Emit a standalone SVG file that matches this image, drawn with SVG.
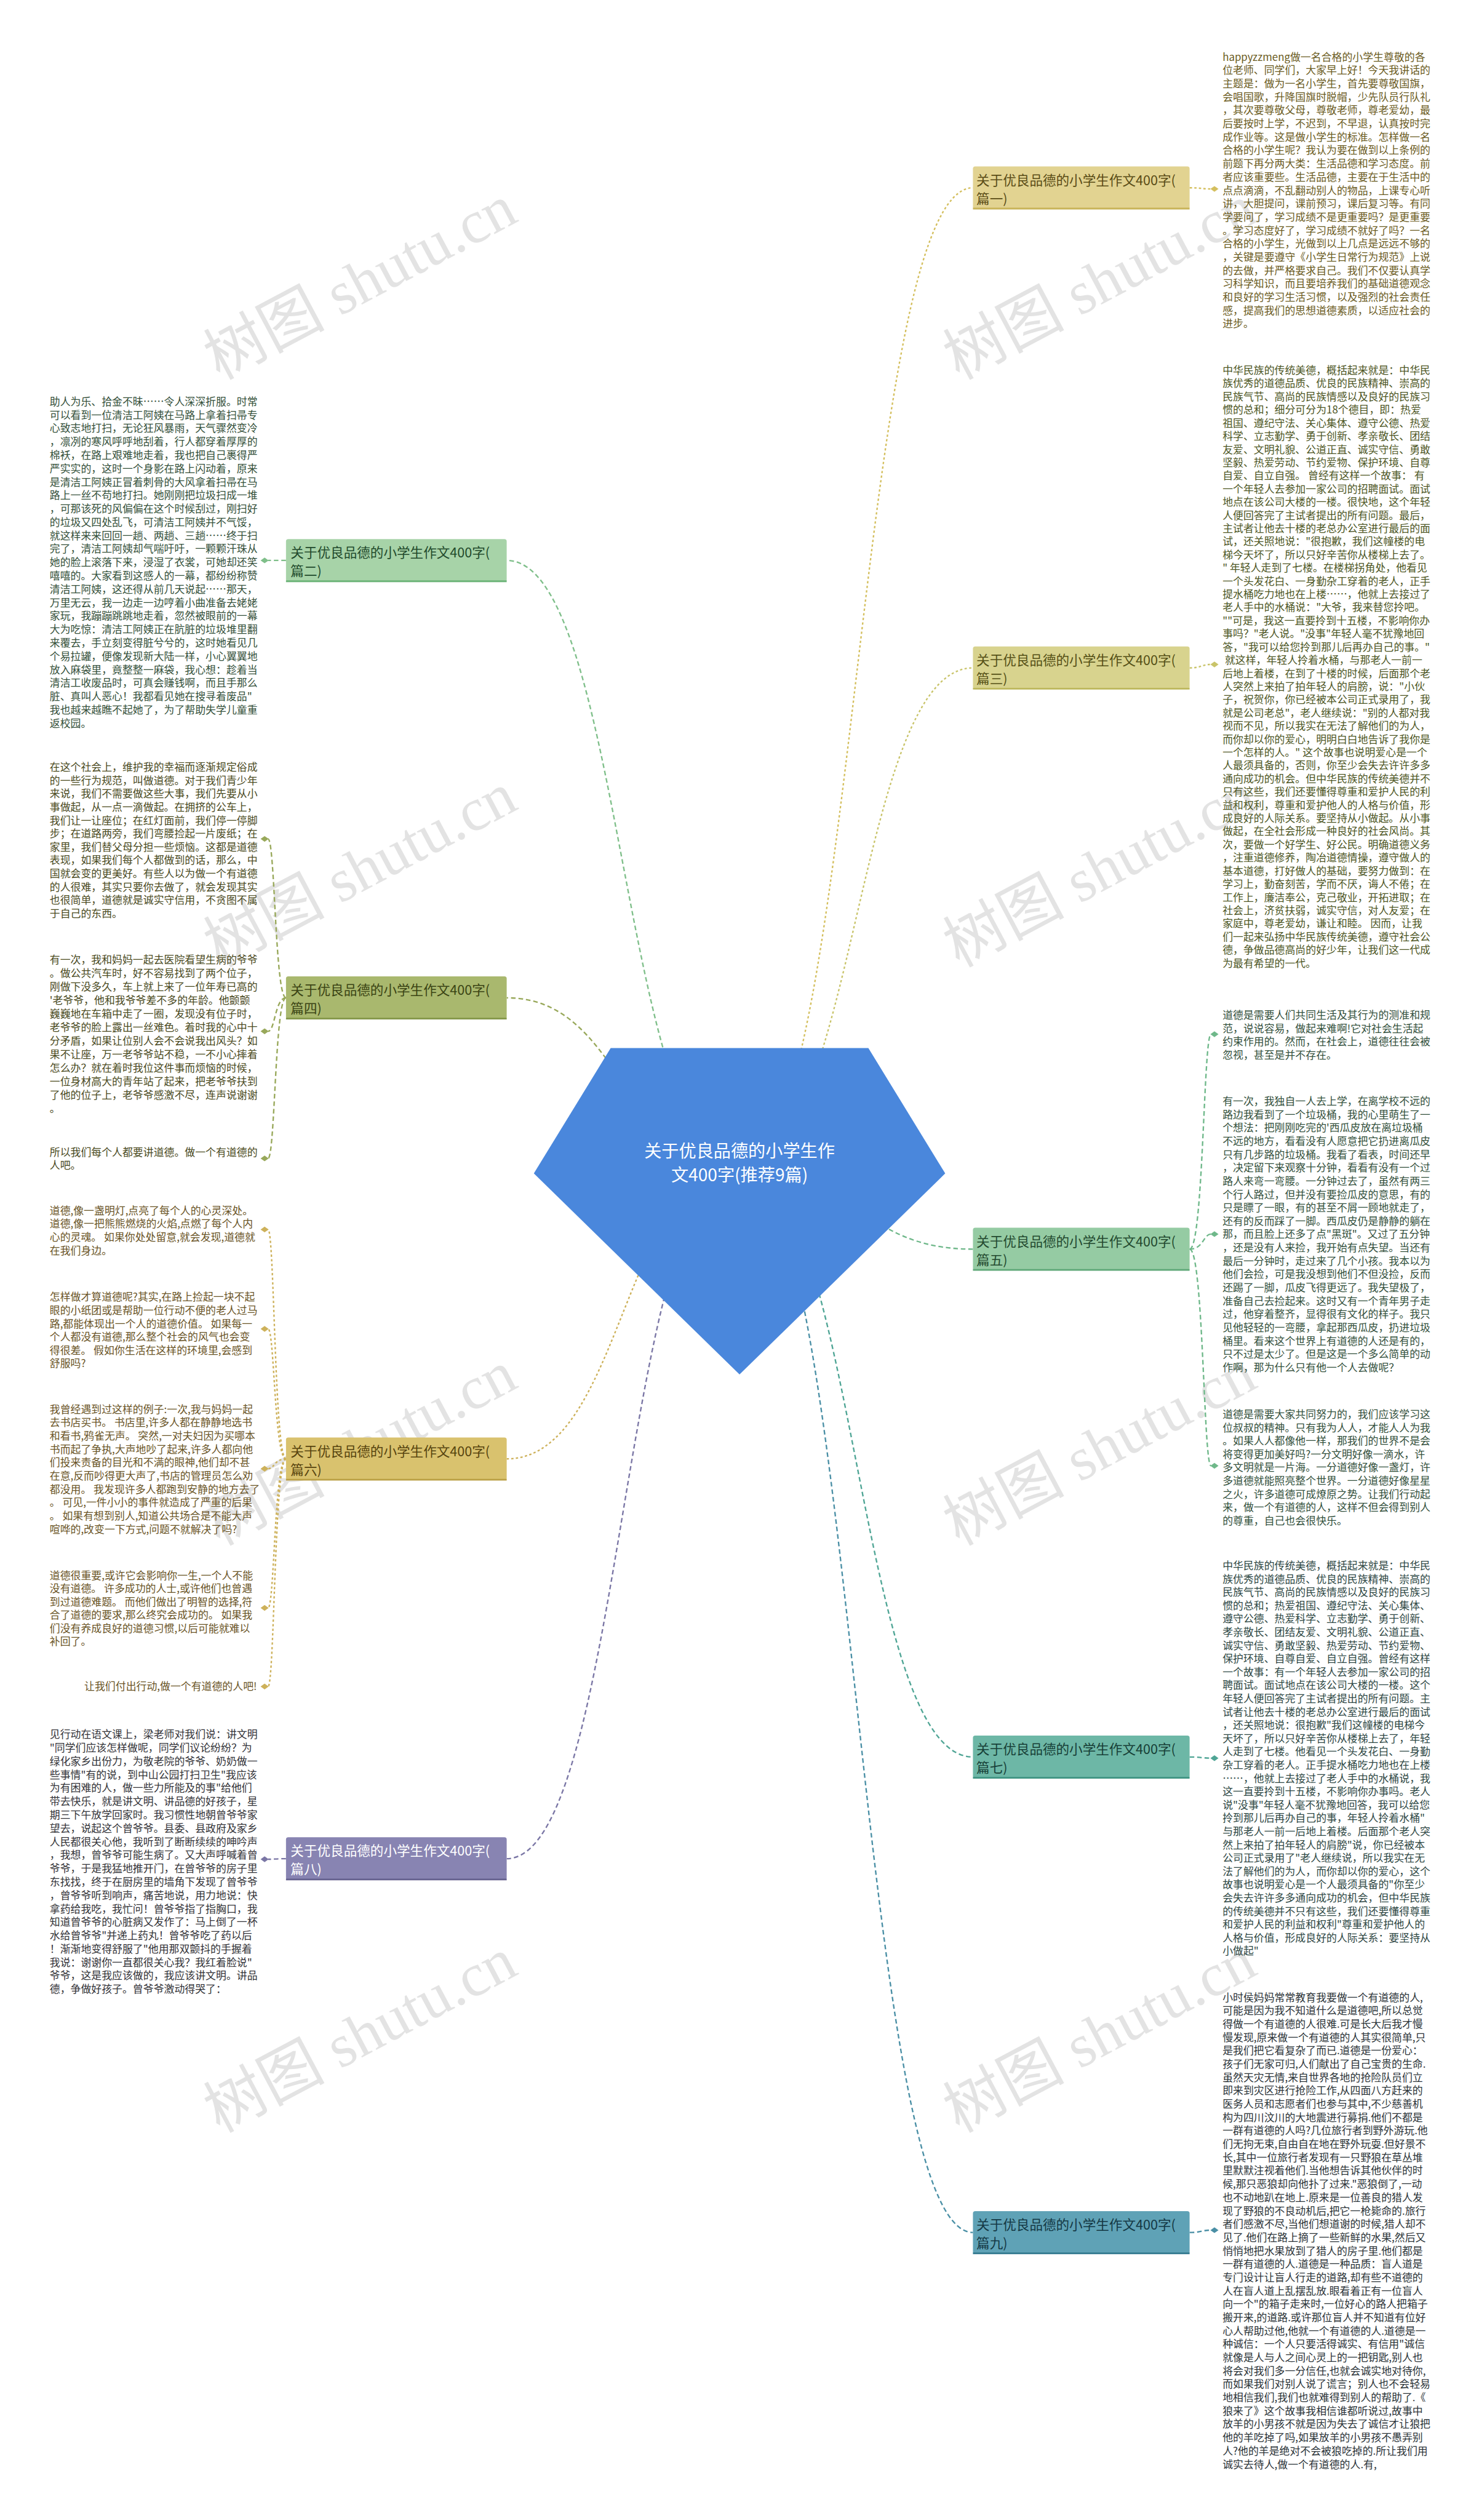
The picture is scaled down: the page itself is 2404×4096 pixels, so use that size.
<svg xmlns="http://www.w3.org/2000/svg" xmlns:xlink="http://www.w3.org/1999/xlink" width="2404" height="4096" viewBox="0 0 2404 4096">
<defs>
<style>
.t{font-family:"Noto Sans CJK SC","Noto Sans",sans-serif;font-size:18px;}
.nt{font-family:"Noto Sans CJK SC","Noto Sans",sans-serif;font-size:23px;}
.rt{font-family:"Noto Sans CJK SC","Noto Sans",sans-serif;font-size:30px;fill:#ffffff;}
.wm{font-family:"Liberation Serif","Noto Sans CJK SC",serif;font-size:105px;fill:#e3e3e3;}
.c{fill:none;stroke-width:2.5;stroke-dasharray:8 5;}
.d{stroke-dasharray:4 4;}
</style>
<path id="dm" d="M-7,0 L0,-5 L7,0 L0,5 Z"/>
</defs>
<rect width="2404" height="4096" fill="#ffffff"/>
<g transform="scale(0.9391)">
<g id="watermarks">
<text class="wm" transform="translate(640,520) rotate(-28)" text-anchor="middle">树图 shutu.cn</text>
<text class="wm" transform="translate(1920,520) rotate(-28)" text-anchor="middle">树图 shutu.cn</text>
<text class="wm" transform="translate(640,1537) rotate(-28)" text-anchor="middle">树图 shutu.cn</text>
<text class="wm" transform="translate(1920,1537) rotate(-28)" text-anchor="middle">树图 shutu.cn</text>
<text class="wm" transform="translate(640,2538) rotate(-28)" text-anchor="middle">树图 shutu.cn</text>
<text class="wm" transform="translate(1920,2538) rotate(-28)" text-anchor="middle">树图 shutu.cn</text>
<text class="wm" transform="translate(640,3554) rotate(-28)" text-anchor="middle">树图 shutu.cn</text>
<text class="wm" transform="translate(1920,3554) rotate(-28)" text-anchor="middle">树图 shutu.cn</text>
</g>
<g id="connectors">
<path class="c d" stroke="#d4bf5e" d="M1280,2020 C1482,2020 1482,325 1684,325"/>
<path class="c d" stroke="#c9c46a" d="M1280,2020 C1482,2020 1482,1156 1684,1156"/>
<path class="c" stroke="#6fb88a" d="M1280,2020 C1482,2020 1482,2162 1684,2162"/>
<path class="c" stroke="#4fa595" d="M1280,2020 C1482,2020 1482,3041 1684,3041"/>
<path class="c" stroke="#4a8fa5" d="M1280,2020 C1482,2020 1482,3864 1684,3864"/>
<path class="c" stroke="#7fbf8a" d="M1280,2020 C1078,2020 1078,970 877,970"/>
<path class="c" stroke="#98a85a" d="M1280,2020 C1078,2020 1078,1727 877,1727"/>
<path class="c d" stroke="#cdb15a" d="M1280,2020 C1078,2020 1078,2525 877,2525"/>
<path class="c" stroke="#7a76a5" d="M1280,2020 C1078,2020 1078,3217 877,3217"/>
<path class="c d" stroke="#d4bf5e" d="M2059,325 C2080,325 2080,327 2096,327"/>
<path class="c d" stroke="#c9c46a" d="M2059,1156 C2080,1156 2080,1150 2096,1150"/>
<path class="c" stroke="#6fb88a" d="M2059,2162 C2083,2162 2083,1790 2096,1790"/>
<path class="c" stroke="#6fb88a" d="M2059,2162 C2083,2162 2083,2136 2096,2136"/>
<path class="c" stroke="#6fb88a" d="M2059,2162 C2083,2162 2083,2537 2096,2537"/>
<path class="c" stroke="#4fa595" d="M2059,3041 C2080,3041 2080,3043 2096,3043"/>
<path class="c" stroke="#4a8fa5" d="M2059,3864 C2080,3864 2080,3860 2096,3860"/>
<path class="c" stroke="#7fbf8a" d="M495,970 C476,970 476,970 464,970"/>
<path class="c" stroke="#98a85a" d="M495,1727 C476,1727 476,1452 464,1452"/>
<path class="c" stroke="#98a85a" d="M495,1727 C476,1727 476,1785 464,1785"/>
<path class="c" stroke="#98a85a" d="M495,1727 C476,1727 476,2005 464,2005"/>
<path class="c d" stroke="#cdb15a" d="M495,2525 C475,2525 475,2128 464,2128"/>
<path class="c d" stroke="#cdb15a" d="M495,2525 C475,2525 475,2300 464,2300"/>
<path class="c d" stroke="#cdb15a" d="M495,2525 C475,2525 475,2542 464,2542"/>
<path class="c d" stroke="#cdb15a" d="M495,2525 C475,2525 475,2783 464,2783"/>
<path class="c d" stroke="#cdb15a" d="M495,2525 C475,2525 475,2919 464,2919"/>
<path class="c" stroke="#7a76a5" d="M495,3217 C476,3217 476,3218 464,3218"/>
<use xlink:href="#dm" x="2102" y="327" fill="#d4bf5e"/>
<use xlink:href="#dm" x="2102" y="1150" fill="#c9c46a"/>
<use xlink:href="#dm" x="2102" y="1790" fill="#6fb88a"/>
<use xlink:href="#dm" x="2102" y="2136" fill="#6fb88a"/>
<use xlink:href="#dm" x="2102" y="2537" fill="#6fb88a"/>
<use xlink:href="#dm" x="2102" y="3043" fill="#4fa595"/>
<use xlink:href="#dm" x="2102" y="3860" fill="#4a8fa5"/>
<use xlink:href="#dm" x="458" y="970" fill="#7fbf8a"/>
<use xlink:href="#dm" x="458" y="1452" fill="#98a85a"/>
<use xlink:href="#dm" x="458" y="1785" fill="#98a85a"/>
<use xlink:href="#dm" x="458" y="2005" fill="#98a85a"/>
<use xlink:href="#dm" x="458" y="2128" fill="#cdb15a"/>
<use xlink:href="#dm" x="458" y="2300" fill="#cdb15a"/>
<use xlink:href="#dm" x="458" y="2542" fill="#cdb15a"/>
<use xlink:href="#dm" x="458" y="2783" fill="#cdb15a"/>
<use xlink:href="#dm" x="458" y="2919" fill="#cdb15a"/>
<use xlink:href="#dm" x="458" y="3218" fill="#7a76a5"/>
</g>
<g id="root">
<polygon points="1057,1814 1503,1814 1636,2031 1280,2379 924,2031" fill="#4a87dc"/>
<text class="rt" x="1280" y="2003" text-anchor="middle">关于优良品德的小学生作</text>
<text class="rt" x="1280" y="2045" text-anchor="middle">文400字(推荐9篇)</text>
</g>
<g id="n1">
<rect x="1684" y="288" width="375" height="74" rx="4" fill="#e2d391"/>
<line x1="1684" y1="361" x2="2059" y2="361" stroke="#c9b45a" stroke-width="3"/>
<text class="nt" fill="#5a4c16" x="1690" y="320">关于优良品德的小学生作文400字(</text>
<text class="nt" fill="#5a4c16" x="1690" y="352">篇一)</text>
</g>
<g id="n3">
<rect x="1684" y="1119" width="375" height="74" rx="4" fill="#d8d38e"/>
<line x1="1684" y1="1192" x2="2059" y2="1192" stroke="#bdb85e" stroke-width="3"/>
<text class="nt" fill="#555016" x="1690" y="1151">关于优良品德的小学生作文400字(</text>
<text class="nt" fill="#555016" x="1690" y="1183">篇三)</text>
</g>
<g id="n5">
<rect x="1684" y="2125" width="375" height="74" rx="4" fill="#95cba3"/>
<line x1="1684" y1="2198" x2="2059" y2="2198" stroke="#5fa878" stroke-width="3"/>
<text class="nt" fill="#23492f" x="1690" y="2157">关于优良品德的小学生作文400字(</text>
<text class="nt" fill="#23492f" x="1690" y="2189">篇五)</text>
</g>
<g id="n7">
<rect x="1684" y="3004" width="375" height="74" rx="4" fill="#6db7a6"/>
<line x1="1684" y1="3077" x2="2059" y2="3077" stroke="#3f9482" stroke-width="3"/>
<text class="nt" fill="#173f37" x="1690" y="3036">关于优良品德的小学生作文400字(</text>
<text class="nt" fill="#173f37" x="1690" y="3068">篇七)</text>
</g>
<g id="n9">
<rect x="1684" y="3827" width="375" height="74" rx="4" fill="#5fa2b6"/>
<line x1="1684" y1="3900" x2="2059" y2="3900" stroke="#3a7f94" stroke-width="3"/>
<text class="nt" fill="#143844" x="1690" y="3859">关于优良品德的小学生作文400字(</text>
<text class="nt" fill="#143844" x="1690" y="3891">篇九)</text>
</g>
<g id="n2">
<rect x="495" y="933" width="382" height="74" rx="4" fill="#a7d3a8"/>
<line x1="495" y1="1006" x2="877" y2="1006" stroke="#6eb57a" stroke-width="3"/>
<text class="nt" fill="#224a2c" x="503" y="965">关于优良品德的小学生作文400字(</text>
<text class="nt" fill="#224a2c" x="503" y="997">篇二)</text>
</g>
<g id="n4">
<rect x="495" y="1690" width="382" height="74" rx="4" fill="#a9b86e"/>
<line x1="495" y1="1763" x2="877" y2="1763" stroke="#84974a" stroke-width="3"/>
<text class="nt" fill="#3b4414" x="503" y="1722">关于优良品德的小学生作文400字(</text>
<text class="nt" fill="#3b4414" x="503" y="1754">篇四)</text>
</g>
<g id="n6">
<rect x="495" y="2488" width="382" height="74" rx="4" fill="#d9c26e"/>
<line x1="495" y1="2561" x2="877" y2="2561" stroke="#bba046" stroke-width="3"/>
<text class="nt" fill="#57440e" x="503" y="2520">关于优良品德的小学生作文400字(</text>
<text class="nt" fill="#57440e" x="503" y="2552">篇六)</text>
</g>
<g id="n8">
<rect x="495" y="3180" width="382" height="74" rx="4" fill="#8884b2"/>
<line x1="495" y1="3253" x2="877" y2="3253" stroke="#66628f" stroke-width="3"/>
<text class="nt" fill="#ffffff" x="503" y="3212">关于优良品德的小学生作文400字(</text>
<text class="nt" fill="#ffffff" x="503" y="3244">篇八)</text>
</g>
<g id="t1" class="t" fill="#6b5b22">
<text x="2116" y="105"><tspan x="2116" dy="0">happyzzmeng做一名合格的小学生尊敬的各</tspan><tspan x="2116" dy="23.1">位老师、同学们，大家早上好！今天我讲话的</tspan><tspan x="2116" dy="23.1">主题是：做为一名小学生，首先要尊敬国旗，</tspan><tspan x="2116" dy="23.1">会唱国歌，升降国旗时脱帽，少先队员行队礼</tspan><tspan x="2116" dy="23.1">，其次要尊敬父母，尊敬老师，尊老爱幼，最</tspan><tspan x="2116" dy="23.1">后要按时上学，不迟到，不早退，认真按时完</tspan><tspan x="2116" dy="23.1">成作业等。这是做小学生的标准。怎样做一名</tspan><tspan x="2116" dy="23.1">合格的小学生呢？我认为要在做到以上条例的</tspan><tspan x="2116" dy="23.1">前题下再分两大类：生活品德和学习态度。前</tspan><tspan x="2116" dy="23.1">者应该重要些。生活品德，主要在于生活中的</tspan><tspan x="2116" dy="23.1">点点滴滴，不乱翻动别人的物品，上课专心听</tspan><tspan x="2116" dy="23.1">讲，大胆提问，课前预习，课后复习等。有同</tspan><tspan x="2116" dy="23.1">学要问了，学习成绩不是更重要吗？是更重要</tspan><tspan x="2116" dy="23.1">。学习态度好了，学习成绩不就好了吗？一名</tspan><tspan x="2116" dy="23.1">合格的小学生，光做到以上几点是远远不够的</tspan><tspan x="2116" dy="23.1">，关键是要遵守《小学生日常行为规范》上说</tspan><tspan x="2116" dy="23.1">的去做，并严格要求自己。我们不仅要认真学</tspan><tspan x="2116" dy="23.1">习科学知识，而且要培养我们的基础道德观念</tspan><tspan x="2116" dy="23.1">和良好的学习生活习惯，以及强烈的社会责任</tspan><tspan x="2116" dy="23.1">感，提高我们的思想道德素质，以适应社会的</tspan><tspan x="2116" dy="23.1">进步。</tspan></text>
</g>
<g id="t3" class="t" fill="#4d5624">
<text x="2116" y="647.5"><tspan x="2116" dy="0">中华民族的传统美德，概括起来就是：中华民</tspan><tspan x="2116" dy="22.8">族优秀的道德品质、优良的民族精神、崇高的</tspan><tspan x="2116" dy="22.8">民族气节、高尚的民族情感以及良好的民族习</tspan><tspan x="2116" dy="22.8">惯的总和；细分可分为18个德目，即：热爱</tspan><tspan x="2116" dy="22.8">祖国、遵纪守法、关心集体、遵守公德、热爱</tspan><tspan x="2116" dy="22.8">科学、立志勤学、勇于创新、孝亲敬长、团结</tspan><tspan x="2116" dy="22.8">友爱、文明礼貌、公道正直、诚实守信、勇敢</tspan><tspan x="2116" dy="22.8">坚毅、热爱劳动、节约爱物、保护环境、自尊</tspan><tspan x="2116" dy="22.8">自爱、自立自强。 曾经有这样一个故事： 有</tspan><tspan x="2116" dy="22.8">一个年轻人去参加一家公司的招聘面试。面试</tspan><tspan x="2116" dy="22.8">地点在该公司大楼的一楼。很快地，这个年轻</tspan><tspan x="2116" dy="22.8">人便回答完了主试者提出的所有问题。最后，</tspan><tspan x="2116" dy="22.8">主试者让他去十楼的老总办公室进行最后的面</tspan><tspan x="2116" dy="22.8">试，还关照地说："很抱歉，我们这幢楼的电</tspan><tspan x="2116" dy="22.8">梯今天坏了，所以只好辛苦你从楼梯上去了。</tspan><tspan x="2116" dy="22.8">" 年轻人走到了七楼。在楼梯拐角处，他看见</tspan><tspan x="2116" dy="22.8">一个头发花白、一身勤杂工穿着的老人，正手</tspan><tspan x="2116" dy="22.8">提水桶吃力地也在上楼……，他就上去接过了</tspan><tspan x="2116" dy="22.8">老人手中的水桶说："大爷，我来替您拎吧。</tspan><tspan x="2116" dy="22.8">""可是，我这一直要拎到十五楼，不影响你办</tspan><tspan x="2116" dy="22.8">事吗？"老人说。"没事"年轻人毫不犹豫地回</tspan><tspan x="2116" dy="22.8">答，"我可以给您拎到那儿后再办自己的事。"</tspan><tspan x="2116" dy="22.8"> 就这样，年轻人拎着水桶，与那老人一前一</tspan><tspan x="2116" dy="22.8">后地上着楼，在到了十楼的时候，后面那个老</tspan><tspan x="2116" dy="22.8">人突然上来拍了拍年轻人的肩膀，说："小伙</tspan><tspan x="2116" dy="22.8">子，祝贺你，你已经被本公司正式录用了，我</tspan><tspan x="2116" dy="22.8">就是公司老总"，老人继续说："别的人都对我</tspan><tspan x="2116" dy="22.8">视而不见，所以我实在无法了解他们的为人，</tspan><tspan x="2116" dy="22.8">而你却以你的爱心，明明白白地告诉了我你是</tspan><tspan x="2116" dy="22.8">一个怎样的人。" 这个故事也说明爱心是一个</tspan><tspan x="2116" dy="22.8">人最须具备的，否则，你至少会失去许许多多</tspan><tspan x="2116" dy="22.8">通向成功的机会。但中华民族的传统美德并不</tspan><tspan x="2116" dy="22.8">只有这些，我们还要懂得尊重和爱护人民的利</tspan><tspan x="2116" dy="22.8">益和权利，尊重和爱护他人的人格与价值，形</tspan><tspan x="2116" dy="22.8">成良好的人际关系。要坚持从小做起。从小事</tspan><tspan x="2116" dy="22.8">做起，在全社会形成一种良好的社会风尚。其</tspan><tspan x="2116" dy="22.8">次，要做一个好学生、好公民。明确道德义务</tspan><tspan x="2116" dy="22.8">，注重道德修养，陶冶道德情操，遵守做人的</tspan><tspan x="2116" dy="22.8">基本道德，打好做人的基础，要努力做到：在</tspan><tspan x="2116" dy="22.8">学习上，勤奋刻苦，学而不厌，诲人不倦；在</tspan><tspan x="2116" dy="22.8">工作上，廉洁奉公，克己敬业，开拓进取；在</tspan><tspan x="2116" dy="22.8">社会上，济贫扶弱，诚实守信，对人友爱；在</tspan><tspan x="2116" dy="22.8">家庭中，尊老爱幼，谦让和睦。 因而，让我</tspan><tspan x="2116" dy="22.8">们一起来弘扬中华民族传统美德，遵守社会公</tspan><tspan x="2116" dy="22.8">德，争做品德高尚的好少年，让我们这一代成</tspan><tspan x="2116" dy="22.8">为最有希望的一代。</tspan></text>
</g>
<g id="t5" class="t" fill="#33503c">
<text x="2116" y="1763.5"><tspan x="2116" dy="0">道德是需要人们共同生活及其行为的测准和规</tspan><tspan x="2116" dy="23.1">范，说说容易，做起来难啊!它对社会生活起</tspan><tspan x="2116" dy="23.1">约束作用的。然而，在社会上，道德往往会被</tspan><tspan x="2116" dy="23.1">忽视，甚至是并不存在。</tspan></text>
<text x="2116" y="1912.5"><tspan x="2116" dy="0">有一次，我独自一人去上学，在离学校不远的</tspan><tspan x="2116" dy="23.05">路边我看到了一个垃圾桶，我的心里萌生了一</tspan><tspan x="2116" dy="23.05">个想法：把刚刚吃完的'西瓜皮放在离垃圾桶</tspan><tspan x="2116" dy="23.05">不远的地方，看看没有人愿意把它扔进离瓜皮</tspan><tspan x="2116" dy="23.05">只有几步路的垃圾桶。我看了看表，时间还早</tspan><tspan x="2116" dy="23.05">，决定留下来观察十分钟，看看有没有一个过</tspan><tspan x="2116" dy="23.05">路人来弯一弯腰。一分钟过去了，虽然有两三</tspan><tspan x="2116" dy="23.05">个行人路过，但并没有要捡瓜皮的意思，有的</tspan><tspan x="2116" dy="23.05">只是瞟了一眼，有的甚至不屑一顾地就走了，</tspan><tspan x="2116" dy="23.05">还有的反而踩了一脚。西瓜皮仍是静静的躺在</tspan><tspan x="2116" dy="23.05">那，而且脸上还多了点"黑斑"。又过了五分钟</tspan><tspan x="2116" dy="23.05">，还是没有人来捡，我开始有点失望。当还有</tspan><tspan x="2116" dy="23.05">最后一分钟时，走过来了几个小孩。我本以为</tspan><tspan x="2116" dy="23.05">他们会捡，可是我没想到他们不但没捡，反而</tspan><tspan x="2116" dy="23.05">还踢了一脚，瓜皮飞得更远了。我失望极了，</tspan><tspan x="2116" dy="23.05">准备自己去捡起来。这时又有一个青年男子走</tspan><tspan x="2116" dy="23.05">过，他穿着整齐，显得很有文化的样子。我只</tspan><tspan x="2116" dy="23.05">见他轻轻的一弯腰，拿起那西瓜皮，扔进垃圾</tspan><tspan x="2116" dy="23.05">桶里。看来这个世界上有道德的人还是有的，</tspan><tspan x="2116" dy="23.05">只不过是太少了。但是这是一个多么简单的动</tspan><tspan x="2116" dy="23.05">作啊，那为什么只有他一个人去做呢？</tspan></text>
<text x="2116" y="2454.5"><tspan x="2116" dy="0">道德是需要大家共同努力的，我们应该学习这</tspan><tspan x="2116" dy="23">位叔叔的精神。只有我为人人，才能人人为我</tspan><tspan x="2116" dy="23">。如果人人都像他一样，那我们的世界不是会</tspan><tspan x="2116" dy="23">将变得更加美好吗?一分文明好像一滴水，许</tspan><tspan x="2116" dy="23">多文明就是一片海。一分道德好像一盏灯，许</tspan><tspan x="2116" dy="23">多道德就能照亮整个世界。一分道德好像星星</tspan><tspan x="2116" dy="23">之火，许多道德可成燎原之势。让我们行动起</tspan><tspan x="2116" dy="23">来，做一个有道德的人，这样不但会得到别人</tspan><tspan x="2116" dy="23">的尊重，自己也会很快乐。</tspan></text>
</g>
<g id="t7" class="t" fill="#2e4744">
<text x="2116" y="2716.5"><tspan x="2116" dy="0">中华民族的传统美德，概括起来就是：中华民</tspan><tspan x="2116" dy="23">族优秀的道德品质、优良的民族精神、崇高的</tspan><tspan x="2116" dy="23">民族气节、高尚的民族情感以及良好的民族习</tspan><tspan x="2116" dy="23">惯的总和；热爱祖国、遵纪守法、关心集体、</tspan><tspan x="2116" dy="23">遵守公德、热爱科学、立志勤学、勇于创新、</tspan><tspan x="2116" dy="23">孝亲敬长、团结友爱、文明礼貌、公道正直、</tspan><tspan x="2116" dy="23">诚实守信、勇敢坚毅、热爱劳动、节约爱物、</tspan><tspan x="2116" dy="23">保护环境、自尊自爱、自立自强。曾经有这样</tspan><tspan x="2116" dy="23">一个故事：有一个年轻人去参加一家公司的招</tspan><tspan x="2116" dy="23">聘面试。面试地点在该公司大楼的一楼。这个</tspan><tspan x="2116" dy="23">年轻人便回答完了主试者提出的所有问题。主</tspan><tspan x="2116" dy="23">试者让他去十楼的老总办公室进行最后的面试</tspan><tspan x="2116" dy="23">，还关照地说：很抱歉"我们这幢楼的电梯今</tspan><tspan x="2116" dy="23">天坏了，所以只好辛苦你从楼梯上去了，年轻</tspan><tspan x="2116" dy="23">人走到了七楼。他看见一个头发花白、一身勤</tspan><tspan x="2116" dy="23">杂工穿着的老人。正手提水桶吃力地也在上楼</tspan><tspan x="2116" dy="23">……，他就上去接过了老人手中的水桶说，我</tspan><tspan x="2116" dy="23">这一直要拎到十五楼，不影响你办事吗。老人</tspan><tspan x="2116" dy="23">说"没事"年轻人毫不犹豫地回答，我可以给您</tspan><tspan x="2116" dy="23">拎到那儿后再办自己的事，年轻人拎着水桶"</tspan><tspan x="2116" dy="23">与那老人一前一后地上着楼。后面那个老人突</tspan><tspan x="2116" dy="23">然上来拍了拍年轻人的肩膀"说，你已经被本</tspan><tspan x="2116" dy="23">公司正式录用了"老人继续说，所以我实在无</tspan><tspan x="2116" dy="23">法了解他们的为人，而你却以你的爱心，这个</tspan><tspan x="2116" dy="23">故事也说明爱心是一个人最须具备的"你至少</tspan><tspan x="2116" dy="23">会失去许许多多通向成功的机会，但中华民族</tspan><tspan x="2116" dy="23">的传统美德并不只有这些，我们还要懂得尊重</tspan><tspan x="2116" dy="23">和爱护人民的利益和权利"尊重和爱护他人的</tspan><tspan x="2116" dy="23">人格与价值，形成良好的人际关系：要坚持从</tspan><tspan x="2116" dy="23">小做起"</tspan></text>
</g>
<g id="t9" class="t" fill="#2b3338">
<text x="2116" y="3463.5"><tspan x="2116" dy="0">小时侯妈妈常常教育我要做一个有道德的人,</tspan><tspan x="2116" dy="23.09">可能是因为我不知道什么是道德吧,所以总觉</tspan><tspan x="2116" dy="23.09">得做一个有道德的人很难.可是长大后我才慢</tspan><tspan x="2116" dy="23.09">慢发现,原来做一个有道德的人其实很简单,只</tspan><tspan x="2116" dy="23.09">是我们把它看复杂了而已.道德是一份爱心：</tspan><tspan x="2116" dy="23.09">孩子们无家可归,人们献出了自己宝贵的生命.</tspan><tspan x="2116" dy="23.09">虽然天灾无情,来自世界各地的抢险队员们立</tspan><tspan x="2116" dy="23.09">即来到灾区进行抢险工作,从四面八方赶来的</tspan><tspan x="2116" dy="23.09">医务人员和志愿者们也参与其中,不少慈善机</tspan><tspan x="2116" dy="23.09">构为四川汶川的大地震进行募捐.他们不都是</tspan><tspan x="2116" dy="23.09">一群有道德的人吗?几位旅行者到野外游玩.他</tspan><tspan x="2116" dy="23.09">们无拘无束,自由自在地在野外玩耍.但好景不</tspan><tspan x="2116" dy="23.09">长,其中一位旅行者发现有一只野狼在草丛堆</tspan><tspan x="2116" dy="23.09">里默默注视着他们.当他想告诉其他伙伴的时</tspan><tspan x="2116" dy="23.09">候,那只恶狼却向他扑了过来."恶狼倒了,一动</tspan><tspan x="2116" dy="23.09">也不动地趴在地上.原来是一位善良的猎人发</tspan><tspan x="2116" dy="23.09">现了野狼的不良动机后,把它一枪毙命的.旅行</tspan><tspan x="2116" dy="23.09">者们感激不尽,当他们想道谢的时候,猎人却不</tspan><tspan x="2116" dy="23.09">见了.他们在路上摘了一些新鲜的水果,然后又</tspan><tspan x="2116" dy="23.09">悄悄地把水果放到了猎人的房子里.他们都是</tspan><tspan x="2116" dy="23.09">一群有道德的人.道德是一种品质：盲人道是</tspan><tspan x="2116" dy="23.09">专门设计让盲人行走的道路,却有些不道德的</tspan><tspan x="2116" dy="23.09">人在盲人道上乱摆乱放.眼看着正有一位盲人</tspan><tspan x="2116" dy="23.09">向一个"的箱子走来时,一位好心的路人把箱子</tspan><tspan x="2116" dy="23.09">搬开来,的道路.或许那位盲人并不知道有位好</tspan><tspan x="2116" dy="23.09">心人帮助过他,他就一个有道德的人.道德是一</tspan><tspan x="2116" dy="23.09">种诚信：一个人只要活得诚实、有信用"诚信</tspan><tspan x="2116" dy="23.09">就像是人与人之间心灵上的一把钥匙,别人也</tspan><tspan x="2116" dy="23.09">将会对我们多一分信任,也就会诚实地对待你,</tspan><tspan x="2116" dy="23.09">而如果我们对别人说了谎言；别人也不会轻易</tspan><tspan x="2116" dy="23.09">地相信我们,我们也就难得到别人的帮助了.《</tspan><tspan x="2116" dy="23.09">狼来了》这个故事我相信谁都听说过,故事中</tspan><tspan x="2116" dy="23.09">放羊的小男孩不就是因为失去了诚信才让狼把</tspan><tspan x="2116" dy="23.09">他的羊吃掉了吗,如果放羊的小男孩不愚弄别</tspan><tspan x="2116" dy="23.09">人?他的羊是绝对不会被狼吃掉的.所让我们用</tspan><tspan x="2116" dy="23.09">诚实去待人,做一个有道德的人.有,</tspan></text>
</g>
<g id="t2" class="t" fill="#34503a">
<text x="86" y="701.5"><tspan x="86" dy="0">助人为乐、拾金不昧……令人深深折服。时常</tspan><tspan x="86" dy="23.2">可以看到一位清洁工阿姨在马路上拿着扫帚专</tspan><tspan x="86" dy="23.2">心致志地打扫，无论狂风暴雨，天气骤然变冷</tspan><tspan x="86" dy="23.2">，凛冽的寒风呼呼地刮着，行人都穿着厚厚的</tspan><tspan x="86" dy="23.2">棉袄，在路上艰难地走着，我也把自己裹得严</tspan><tspan x="86" dy="23.2">严实实的，这时一个身影在路上闪动着，原来</tspan><tspan x="86" dy="23.2">是清洁工阿姨正冒着刺骨的大风拿着扫帚在马</tspan><tspan x="86" dy="23.2">路上一丝不苟地打扫。她刚刚把垃圾扫成一堆</tspan><tspan x="86" dy="23.2">，可那该死的风偏偏在这个时候刮过，刚扫好</tspan><tspan x="86" dy="23.2">的垃圾又四处乱飞，可清洁工阿姨并不气馁，</tspan><tspan x="86" dy="23.2">就这样来来回回一趟、两趟、三趟……终于扫</tspan><tspan x="86" dy="23.2">完了，清洁工阿姨却气喘吁吁，一颗颗汗珠从</tspan><tspan x="86" dy="23.2">她的脸上滚落下来，浸湿了衣裳，可她却还笑</tspan><tspan x="86" dy="23.2">嘻嘻的。大家看到这感人的一幕，都纷纷称赞</tspan><tspan x="86" dy="23.2">清洁工阿姨，这还得从前几天说起……那天，</tspan><tspan x="86" dy="23.2">万里无云，我一边走一边哼着小曲准备去姥姥</tspan><tspan x="86" dy="23.2">家玩，我蹦蹦跳跳地走着，忽然被眼前的一幕</tspan><tspan x="86" dy="23.2">大为吃惊：清洁工阿姨正在肮脏的垃圾堆里翻</tspan><tspan x="86" dy="23.2">来覆去，手立刻变得脏兮兮的，这时她看见几</tspan><tspan x="86" dy="23.2">个易拉罐，便像发现新大陆一样，小心翼翼地</tspan><tspan x="86" dy="23.2">放入麻袋里，竟整整一麻袋，我心想：趁着当</tspan><tspan x="86" dy="23.2">清洁工收废品时，可真会赚钱啊，而且手那么</tspan><tspan x="86" dy="23.2">脏、真叫人恶心！我都看见她在搜寻着废品"</tspan><tspan x="86" dy="23.2">我也越来越瞧不起她了，为了帮助失学儿童重</tspan><tspan x="86" dy="23.2">返校园。</tspan></text>
</g>
<g id="t4" class="t" fill="#4a4a1e">
<text x="86" y="1334.5"><tspan x="86" dy="0">在这个社会上，维护我的幸福而逐渐规定俗成</tspan><tspan x="86" dy="23">的一些行为规范，叫做道德。对于我们青少年</tspan><tspan x="86" dy="23">来说，我们不需要做这些大事，我们先要从小</tspan><tspan x="86" dy="23">事做起，从一点一滴做起。在拥挤的公车上，</tspan><tspan x="86" dy="23">我们让一让座位；在红灯面前，我们停一停脚</tspan><tspan x="86" dy="23">步；在道路两旁，我们弯腰捡起一片废纸；在</tspan><tspan x="86" dy="23">家里，我们替父母分担一些烦恼。这都是道德</tspan><tspan x="86" dy="23">表现，如果我们每个人都做到的话，那么，中</tspan><tspan x="86" dy="23">国就会变的更美好。有些人以为做一个有道德</tspan><tspan x="86" dy="23">的人很难，其实只要你去做了，就会发现其实</tspan><tspan x="86" dy="23">也很简单，道德就是诚实守信用，不贪图不属</tspan><tspan x="86" dy="23">于自己的东西。</tspan></text>
<text x="86" y="1667.5"><tspan x="86" dy="0">有一次，我和妈妈一起去医院看望生病的爷爷</tspan><tspan x="86" dy="23.4">。做公共汽车时，好不容易找到了两个位子，</tspan><tspan x="86" dy="23.4">刚做下没多久，车上就上来了一位年寿已高的</tspan><tspan x="86" dy="23.4">'老爷爷，他和我爷爷差不多的年龄。他颤颤</tspan><tspan x="86" dy="23.4">巍巍地在车箱中走了一圈，发现没有位子时，</tspan><tspan x="86" dy="23.4">老爷爷的脸上露出一丝难色。着时我的心中十</tspan><tspan x="86" dy="23.4">分矛盾，如果让位别人会不会说我出风头？如</tspan><tspan x="86" dy="23.4">果不让座，万一老爷爷站不稳，一不小心摔着</tspan><tspan x="86" dy="23.4">怎么办？就在着时我位这件事而烦恼的时候，</tspan><tspan x="86" dy="23.4">一位身材高大的青年站了起来，把老爷爷扶到</tspan><tspan x="86" dy="23.4">了他的位子上，老爷爷感激不尽，连声说谢谢</tspan><tspan x="86" dy="23.4">。</tspan></text>
<text x="86" y="2000.5"><tspan x="86" dy="0">所以我们每个人都要讲道德。做一个有道德的</tspan><tspan x="86" dy="23">人吧。</tspan></text>
</g>
<g id="t6" class="t" fill="#6a5426">
<text x="86" y="2101.5"><tspan x="86" dy="0">道德,像一盏明灯,点亮了每个人的心灵深处。</tspan><tspan x="86" dy="23.3">道德,像一把熊熊燃烧的火焰,点燃了每个人内</tspan><tspan x="86" dy="23.3">心的灵魂。 如果你处处留意,就会发现,道德就</tspan><tspan x="86" dy="23.3">在我们身边。</tspan></text>
<text x="86" y="2251.5"><tspan x="86" dy="0">怎样做才算道德呢?其实,在路上捡起一块不起</tspan><tspan x="86" dy="23">眼的小纸团或是帮助一位行动不便的老人过马</tspan><tspan x="86" dy="23">路,都能体现出一个人的道德价值。 如果每一</tspan><tspan x="86" dy="23">个人都没有道德,那么整个社会的风气也会变</tspan><tspan x="86" dy="23">得很差。 假如你生活在这样的环境里,会感到</tspan><tspan x="86" dy="23">舒服吗?</tspan></text>
<text x="86" y="2445.5"><tspan x="86" dy="0">我曾经遇到过这样的例子:一次,我与妈妈一起</tspan><tspan x="86" dy="23.1">去书店买书。 书店里,许多人都在静静地选书</tspan><tspan x="86" dy="23.1">和看书,鸦雀无声。 突然,一对夫妇因为买哪本</tspan><tspan x="86" dy="23.1">书而起了争执,大声地吵了起来,许多人都向他</tspan><tspan x="86" dy="23.1">们投来责备的目光和不满的眼神,他们却不甚</tspan><tspan x="86" dy="23.1">在意,反而吵得更大声了,书店的管理员怎么劝</tspan><tspan x="86" dy="23.1">都没用。 我发现许多人都跑到安静的地方去了</tspan><tspan x="86" dy="23.1">。 可见,一件小小的事件就造成了严重的后果</tspan><tspan x="86" dy="23.1">。 如果有想到别人,知道公共场合是不能大声</tspan><tspan x="86" dy="23.1">喧哗的,改变一下方式,问题不就解决了吗?</tspan></text>
<text x="86" y="2733.5"><tspan x="86" dy="0">道德很重要,或许它会影响你一生,一个人不能</tspan><tspan x="86" dy="22.8">没有道德。 许多成功的人士,或许他们也曾遇</tspan><tspan x="86" dy="22.8">到过道德难题。 而他们做出了明智的选择,符</tspan><tspan x="86" dy="22.8">合了道德的要求,那么终究会成功的。 如果我</tspan><tspan x="86" dy="22.8">们没有养成良好的道德习惯,以后可能就难以</tspan><tspan x="86" dy="22.8">补回了。</tspan></text>
<text x="146" y="2925.5">让我们付出行动,做一个有道德的人吧!</text>
</g>
<g id="t8" class="t" fill="#333338">
<text x="86" y="3008.5"><tspan x="86" dy="0">见行动在语文课上，梁老师对我们说：讲文明</tspan><tspan x="86" dy="23.2">"同学们应该怎样做呢，同学们议论纷纷？为</tspan><tspan x="86" dy="23.2">绿化家乡出份力，为敬老院的爷爷、奶奶做一</tspan><tspan x="86" dy="23.2">些事情"有的说，到中山公园打扫卫生"我应该</tspan><tspan x="86" dy="23.2">为有困难的人，做一些力所能及的事"给他们</tspan><tspan x="86" dy="23.2">带去快乐，就是讲文明、讲品德的好孩子，星</tspan><tspan x="86" dy="23.2">期三下午放学回家时。我习惯性地朝曾爷爷家</tspan><tspan x="86" dy="23.2">望去，说起这个曾爷爷。县委、县政府及家乡</tspan><tspan x="86" dy="23.2">人民都很关心他，我听到了断断续续的呻吟声</tspan><tspan x="86" dy="23.2">，我想，曾爷爷可能生病了。又大声呼喊着曾</tspan><tspan x="86" dy="23.2">爷爷，于是我猛地推开门，在曾爷爷的房子里</tspan><tspan x="86" dy="23.2">东找找，终于在厨房里的墙角下发现了曾爷爷</tspan><tspan x="86" dy="23.2">，曾爷爷听到响声，痛苦地说，用力地说：快</tspan><tspan x="86" dy="23.2">拿药给我吃，我忙问！曾爷爷指了指胸口，我</tspan><tspan x="86" dy="23.2">知道曾爷爷的心脏病又发作了：马上倒了一杯</tspan><tspan x="86" dy="23.2">水给曾爷爷"并递上药丸！曾爷爷吃了药以后</tspan><tspan x="86" dy="23.2">！渐渐地变得舒服了"他用那双颤抖的手握着</tspan><tspan x="86" dy="23.2">我说：谢谢你一直都很关心我？我红着脸说"</tspan><tspan x="86" dy="23.2">爷爷，这是我应该做的，我应该讲文明。讲品</tspan><tspan x="86" dy="23.2">德，争做好孩子。曾爷爷激动得哭了：</tspan></text>
</g>
</g>
</svg>
